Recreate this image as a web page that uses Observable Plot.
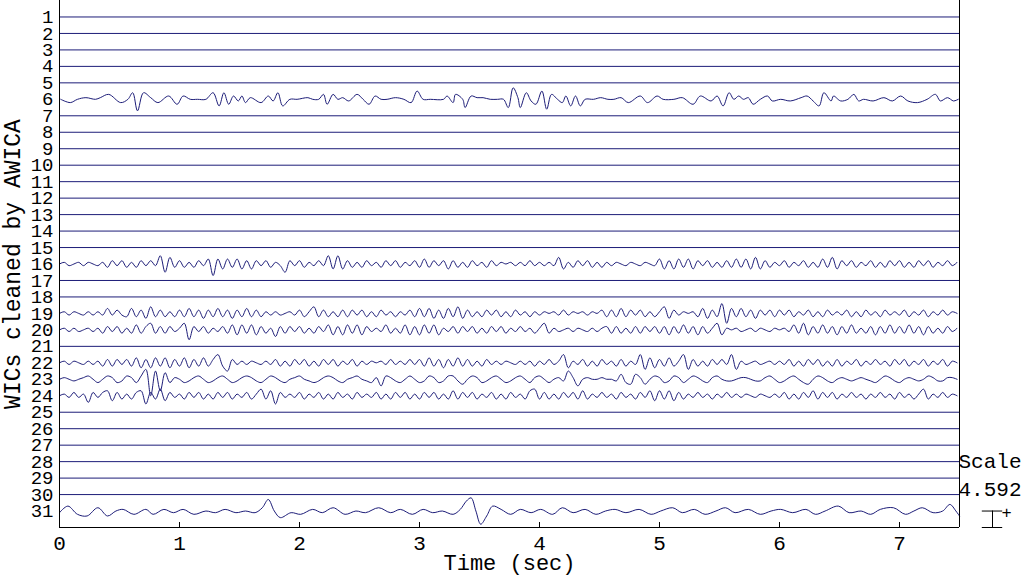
<!DOCTYPE html>
<html>
<head>
<meta charset="utf-8">
<script src="https://cdn.jsdelivr.net/npm/d3@7"></script>
<script src="https://cdn.jsdelivr.net/npm/@observablehq/plot@0.6"></script>
<style>
  html, body { margin: 0; padding: 0; background: #fff; }
  svg { display: block; }
</style>
</head>
<body>
<div id="chart"></div>
<script>
// ---------------- data ----------------
const channels = d3.range(1, 32);            // 1..31
const xTicks = [0, 1, 2, 3, 4, 5, 6, 7];
const scaleValue = 4.592;                     // channel spacing in data units
const xLabel = "Time (sec)";
const yLabel = "WICs cleaned by AWICA";
// amplitudes below are in tenths of the scale (10 = 4.592)

// irregularly sampled traces: [time (s), amplitude]
const ch6 = [[0.01,0],[0.09,-2],[0.15,0],[0.22,1],[0.30,0],[0.34,1],[0.41,3],[0.51,-2],[0.57,0],[0.61,4],[0.65,-7],[0.70,4],[0.76,1],[0.82,-2],[0.91,2],[0.98,-3],[1.03,2],[1.09,0],[1.15,0],[1.22,0],[1.28,4],[1.33,-4],[1.37,4],[1.41,-3],[1.45,2],[1.49,-1],[1.52,2],[1.55,-2],[1.59,1],[1.68,-2],[1.74,2],[1.78,-1],[1.82,4],[1.86,-4],[1.92,0],[1.98,0],[2.07,1],[2.11,0],[2.16,0],[2.20,3],[2.23,-3],[2.28,3],[2.32,0],[2.36,1],[2.41,-1],[2.48,3],[2.53,0],[2.58,-3],[2.63,2],[2.68,0],[2.73,0],[2.80,1],[2.87,0],[2.93,-2],[2.98,5],[3.03,0],[3.09,0],[3.20,0],[3.23,2],[3.28,-2],[3.30,3],[3.36,0],[3.38,-5],[3.43,2],[3.48,1],[3.53,1],[3.59,0],[3.65,0],[3.70,0],[3.74,-5],[3.78,7],[3.82,1],[3.84,-5],[3.89,4],[3.93,-1],[3.97,-3],[4.02,5],[4.06,-6],[4.10,3],[4.15,0],[4.19,-2],[4.22,2],[4.26,-4],[4.30,2],[4.34,-4],[4.38,0],[4.45,0],[4.51,1],[4.57,0],[4.62,0],[4.68,1],[4.74,-2],[4.84,2],[4.90,-2],[4.98,2],[5.03,0],[5.12,0],[5.19,1],[5.28,-3],[5.34,2],[5.43,-1],[5.48,2],[5.53,-4],[5.58,4],[5.62,0],[5.66,2],[5.70,0],[5.74,1],[5.78,-3],[5.84,0],[5.90,2],[5.94,-1],[6.01,0],[6.09,-1],[6.18,1],[6.23,2],[6.28,-1],[6.33,-4],[6.37,4],[6.43,-1],[6.45,2],[6.51,-1],[6.57,0],[6.62,3],[6.66,-1],[6.70,0],[6.78,-1],[6.87,1],[6.94,-1],[7.01,2],[7.07,-1],[7.15,-2],[7.23,0],[7.30,3],[7.34,-1],[7.40,1],[7.45,-1],[7.49,0]];

const ch31 = [[0,-1],[0.07,3],[0.15,-2],[0.23,-3],[0.32,2],[0.40,-3],[0.47,0],[0.53,1],[0.62,-2],[0.72,1],[0.78,-2],[0.87,1],[0.95,-1],[1.03,1],[1.12,-2],[1.22,0],[1.30,-1],[1.38,1],[1.47,-1],[1.55,0],[1.63,-1],[1.69,2],[1.74,7],[1.79,0],[1.84,-4],[1.93,-1],[2.01,-2],[2.11,1],[2.19,-1],[2.28,2],[2.38,-2],[2.47,0],[2.55,-1],[2.66,2],[2.76,-1],[2.84,1],[2.94,-2],[3.03,1],[3.11,-1],[3.19,0],[3.28,-2],[3.34,1],[3.39,6],[3.43,8],[3.47,0],[3.51,-8],[3.56,-3],[3.61,3],[3.68,1],[3.76,-2],[3.84,1],[3.93,-1],[4.01,1],[4.11,-2],[4.19,2],[4.28,-1],[4.38,1],[4.47,-2],[4.55,0],[4.63,1],[4.72,-1],[4.83,1],[4.93,-2],[5.01,0],[5.11,2],[5.19,-1],[5.29,1],[5.38,-2],[5.47,0],[5.55,2],[5.63,-1],[5.74,1],[5.84,-2],[5.93,0],[6.01,1],[6.11,-1],[6.22,1],[6.30,-2],[6.38,0],[6.49,3],[6.58,-1],[6.68,0],[6.76,-2],[6.84,1],[6.95,2],[7.05,-2],[7.12,0],[7.19,2],[7.28,-1],[7.36,0],[7.42,4],[7.47,0],[7.50,-3]];

// regularly sampled traces (one value every 0.04 s from t = 0)
const DT = 0.04;
const ch16 = [
  0,1,-1,0,1,-1,1,0,-1,1,-2,2,-1,2,-2,1,-2,2,-1,2,-1,5,-5,4,-2,
  2,-2,1,-2,2,-1,3,-7,3,-3,3,-2,3,-3,2,-3,2,-1,2,-2,1,-1,-5,2,-1,
  2,-2,1,-1,2,-1,5,-3,5,-3,2,-2,1,-2,2,-1,1,-2,2,-1,2,-2,1,-1,2,
  -2,3,-2,2,-1,2,-3,2,-2,1,-2,2,-1,1,-2,2,-1,1,0,1,-1,1,-1,2,-1,
  1,-1,1,-1,4,-3,1,-2,2,-1,2,-2,1,-2,1,-1,1,0,-1,1,0,-1,1,0,-1,
  3,-3,2,-3,3,-2,3,-3,2,-1,2,-2,1,-2,2,-2,3,-2,3,-3,4,-3,2,-2,1,
  -1,2,-2,1,-1,2,-2,1,-2,3,-2,4,-3,2,-1,2,-2,1,-1,2,-2,1,-2,2,-1,
  2,-2,1,-2,2,-1,2,-2,1,-1,2,-1,1];
const ch19 = [
  0,1,-1,1,0,-1,1,-1,1,-1,3,-1,2,-1,-2,3,-2,2,-3,4,-2,2,-2,1,-2,
  2,-2,3,-2,2,-3,2,-2,3,-2,2,-3,2,-2,3,-2,2,-2,1,-1,1,-1,0,1,-1,
  2,-2,1,4,-2,2,-2,1,-2,2,-2,2,-1,2,-2,1,-2,2,-1,1,-2,1,-1,2,-2,
  3,-2,3,-3,2,-3,3,-2,4,-3,2,-2,1,-2,2,-1,2,-2,1,-2,2,-1,1,-2,1,
  -1,1,0,1,-1,2,-1,1,0,1,-1,1,0,2,-2,2,-2,3,-2,2,-1,2,-2,1,-2,
  1,4,-3,2,-1,1,0,1,-2,3,-3,2,-2,6,-6,3,-2,3,-2,2,-3,2,-1,2,-2,
  2,-1,2,-2,1,-1,2,-2,1,-2,2,-1,1,-1,2,-2,1,-2,2,-1,1,-2,2,-1,1,
  -1,2,-2,1,-1,2,-2,1,-1,2,-1,1,0];
const ch20 = [
  0,1,-1,1,-1,0,1,-1,1,-2,2,-1,2,-2,1,-2,3,-2,2,4,-2,2,-2,2,-1,
  1,4,-6,2,-1,2,-2,1,-1,2,-2,3,-3,3,-2,3,-3,2,-2,1,-4,2,-2,2,-1,
  2,-2,1,-2,2,-1,3,-3,2,-3,3,-2,3,-3,2,-1,1,-1,3,-2,1,-2,3,-3,2,
  -3,3,-2,3,-3,1,-1,2,-2,2,-1,2,-2,1,-2,2,-1,2,-2,1,-1,2,-1,1,-2,
  1,4,-2,1,-1,0,1,-1,1,0,-1,1,-1,1,2,-2,2,-2,1,-2,2,-2,2,-1,2,
  -2,2,-3,2,-2,3,-2,2,-3,2,-2,1,4,-3,1,0,1,-1,0,1,-1,1,0,-1,1,
  0,1,-1,3,-2,4,-3,2,-2,3,-2,2,-3,2,-2,3,-2,1,-2,2,-3,2,-2,3,-2,
  2,-2,3,-2,2,-3,2,-2,1,-2,2,-1,1];
const ch22 = [
  0,1,-1,1,0,-1,1,-1,1,-2,2,-2,2,-1,2,-2,3,-3,2,-3,3,-2,3,-3,2,
  -2,3,-3,2,-2,3,-2,2,5,-2,-5,2,-1,1,-1,1,0,-1,1,-1,2,-2,1,-2,2,
  -1,2,-2,1,-2,2,-1,2,-2,1,-1,2,-2,1,-1,1,0,1,-1,2,-1,1,-1,2,-1,
  2,-2,3,-2,2,-3,2,-2,3,-2,2,-2,1,-2,2,-1,1,-1,1,0,-1,1,-1,1,-2,
  1,-1,2,-1,1,5,-3,1,-1,2,-2,1,-2,2,-1,1,-2,2,-2,1,-1,5,-4,3,-3,
  2,-2,3,-2,1,5,-4,2,-2,1,-2,2,-1,2,-1,5,-4,1,-1,0,1,-1,0,1,-1,
  1,-1,2,-2,1,-2,2,-1,2,-2,1,-2,2,-2,1,-1,2,-2,1,-1,2,-1,1,-2,2,
  -1,2,-2,1,-1,2,-2,1,-1,2,-2,1,0];
const ch23 = [
  0,1,0,-1,0,1,2,0,-2,0,2,1,-2,-1,2,1,-2,2,6,-10,5,-7,4,-2,1,
  0,-2,-1,1,2,0,-2,-1,1,2,0,-2,-1,1,2,1,-1,-2,0,2,1,-1,-2,0,1,
  2,0,-1,-2,-1,1,2,1,-1,-2,0,1,2,0,-1,-2,1,-4,2,1,-1,-2,0,2,0,
  -2,-1,2,1,-2,-1,2,2,-1,-3,0,2,1,-2,-1,1,2,0,-2,-1,1,2,0,-2,1,
  2,0,-2,0,1,-1,5,1,-4,0,1,0,0,1,0,0,-1,3,-2,-3,3,1,-3,0,2,
  1,-2,-1,2,1,-2,0,2,1,-1,-2,1,2,0,-1,-1,0,1,1,0,-1,-1,1,2,0,
  -2,-1,1,2,0,-2,-3,0,2,1,-1,-2,0,1,0,-1,0,1,0,-1,-2,0,2,1,-1,
  -2,0,1,0,-1,0,2,1,-1,-1,1,1,0];
const ch24 = [
  0,1,-1,2,-1,1,-4,2,-1,2,3,-3,2,-2,1,-2,2,3,-5,2,-2,4,-3,2,-1,
  1,-2,2,-1,2,-2,1,-2,2,-1,2,-2,1,-1,2,-2,1,4,-2,3,-5,2,-1,1,-1,
  2,-2,1,-1,2,-2,1,-2,2,-1,1,-2,2,-1,1,-1,2,-2,1,-2,2,-1,2,-2,1,
  -2,2,-1,2,-2,1,-2,3,-2,2,-1,2,-2,1,-1,2,-2,1,-2,2,-1,1,-2,3,4,
  -2,2,-2,1,-2,2,-1,2,-2,3,-2,1,-1,2,-1,1,-2,2,-1,1,-2,2,-1,3,-3,
  3,-2,3,-3,2,-2,1,-1,2,-1,1,-2,1,-1,2,-1,1,-1,1,0,-1,1,0,-1,1,
  -1,2,-2,1,-2,2,-1,3,-2,2,-1,2,-2,1,-1,2,-1,1,-2,1,-1,2,-1,1,-2,
  2,-1,1,-2,1,4,-2,1,-1,2,-1,1,0];

// ---------------- build rows ----------------
const pairTraces = [[6, ch6], [31, ch31]];
const sampledTraces = [[16, ch16], [19, ch19], [20, ch20], [22, ch22], [23, ch23], [24, ch24]];
const rows = [];
for (const [ch, pts] of pairTraces)
  for (const [t, v] of pts) rows.push({ch, t, pos: ch - v / 10});
for (const [ch, vals] of sampledTraces)
  vals.forEach((v, i) => rows.push({ch, t: i * DT, pos: ch - v / 10}));
const active = new Set([...pairTraces, ...sampledTraces].map(d => d[0]));
const flat = channels.filter(c => !active.has(c));

const LINE = "#1c1c78";
const FONT = "'Liberation Mono', 'DejaVu Sans Mono', monospace";

const chart = Plot.plot({
  width: 1024,
  height: 575,
  marginLeft: 59,
  marginRight: 65,
  marginTop: 0,
  marginBottom: 48,
  style: {fontFamily: FONT, fontSize: "21px", color: "#000", background: "#fff", overflow: "visible"},
  x: {domain: [0, 7.5]},
  y: {domain: [32, 0]},
  marks: [
    Plot.ruleY(flat, {y: d => d, stroke: LINE, strokeWidth: 1}),
    Plot.line(rows, {x: "t", y: "pos", z: "ch", stroke: LINE, strokeWidth: 1, curve: "catmull-rom"}),
    Plot.ruleX([0, 7.5], {stroke: "#000", strokeWidth: 1}),
    Plot.ruleY([32], {stroke: "#000", strokeWidth: 1}),
    Plot.tickX(xTicks, {x: d => d, insetTop: 522, stroke: "#000", strokeWidth: 1}),
    Plot.axisX({ticks: xTicks, tickSize: 0, tickPadding: 8, tickFormat: d => String(d), label: null, fontSize: 21}),
    Plot.axisY({ticks: channels, tickSize: 0, tickPadding: 6, tickFormat: d => String(d), label: null, fontSize: 19}),
    Plot.text([xLabel], {frameAnchor: "bottom", dy: 35, lineAnchor: "middle", textAnchor: "middle", text: d => d, fontSize: 22, fill: "#000"}),
    Plot.text([yLabel], {frameAnchor: "left", dx: -47, rotate: -90, lineAnchor: "middle", textAnchor: "middle", text: d => d, fontSize: 23, fill: "#000"}),
    // scale indicator
    Plot.text(["Scale"], {x: 7.5, y: 31, dy: -50, dx: -1, text: d => d, textAnchor: "start", fontSize: 21, fill: "#000"}),
    Plot.text([scaleValue], {x: 7.5, y: 31, dy: -22, dx: -1, text: d => d.toFixed(3), textAnchor: "start", fontSize: 21, fill: "#000"}),
    Plot.ruleX([scaleValue], {x: 7.5, y1: 31, y2: d => 31 + d / scaleValue, dx: 33, stroke: "#000"}),
    Plot.ruleY([31, 32], {y: d => d, x1: 7.69, x2: 7.86, stroke: "#000"}),
    Plot.text(["+"], {x: 7.5, y: 31, dx: 47, dy: 2, text: d => d, fontSize: 17, fill: "#000"})
  ]
});
document.getElementById("chart").appendChild(chart);
</script>
</body>
</html>
